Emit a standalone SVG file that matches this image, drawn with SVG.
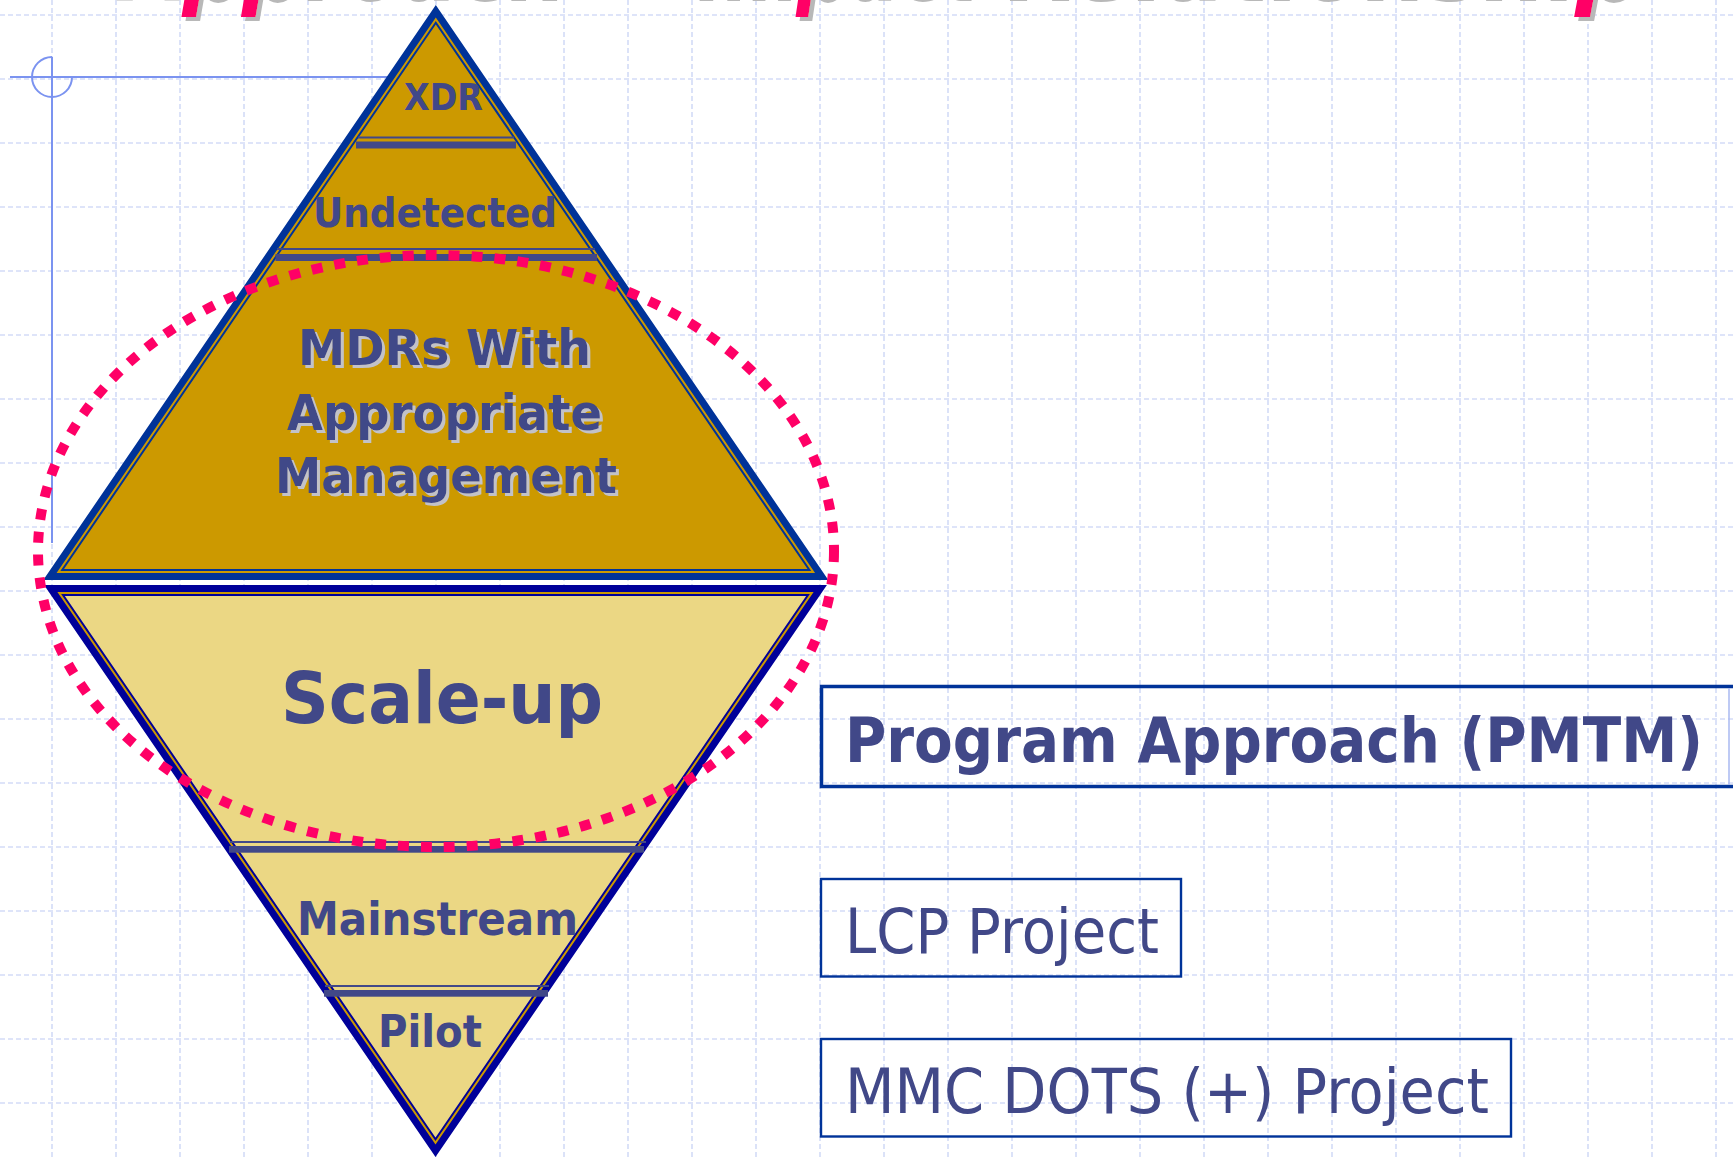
<svg xmlns="http://www.w3.org/2000/svg" width="1733" height="1158" viewBox="0 0 1733 1158">
<defs>
<filter id="shTitle" x="-5%" y="-50%" width="110%" height="200%">
<feOffset in="SourceAlpha" dx="4" dy="4" result="o"/>
<feFlood flood-color="#B8B8B8"/>
<feComposite in2="o" operator="in" result="s"/>
<feMerge><feMergeNode in="s"/><feMergeNode in="SourceGraphic"/></feMerge>
</filter>
<filter id="shLbl" x="-5%" y="-20%" width="110%" height="140%">
<feOffset in="SourceAlpha" dx="2.5" dy="2.5" result="o"/>
<feFlood flood-color="#C2C2C8"/>
<feComposite in2="o" operator="in" result="s"/>
<feMerge><feMergeNode in="s"/><feMergeNode in="SourceGraphic"/></feMerge>
</filter>
</defs>
<style>
.grid{fill:none;stroke:#D3DBF7;stroke-width:1.6;stroke-dasharray:5 3}
.cross{fill:none;stroke:#7B93F0;stroke-width:2}
.lbl{font-family:"DejaVu Sans","Liberation Sans",sans-serif;font-weight:bold;fill:#414888}
.box{font-family:"DejaVu Sans","Liberation Sans",sans-serif;fill:#414888;font-size:62px}
.title{font-family:"DejaVu Sans","Liberation Sans",sans-serif;font-weight:bold;font-style:italic;font-size:94px;fill:#FF0066}
.bar{fill:#414888}
.thin{stroke:#414888;stroke-width:2}
</style>
<rect width="1733" height="1158" fill="#FFFFFF"/>
<g id="grid">
<path class="grid" d="M52 0V1158M116 0V1158M180 0V1158M244 0V1158M308 0V1158M372 0V1158M436 0V1158M500 0V1158M564 0V1158M628 0V1158M692 0V1158M756 0V1158M820 0V1158M884 0V1158M948 0V1158M1012 0V1158M1076 0V1158M1140 0V1158M1204 0V1158M1268 0V1158M1332 0V1158M1396 0V1158M1460 0V1158M1524 0V1158M1588 0V1158M1652 0V1158M1716 0V1158"/>
<path class="grid" d="M0 15H1733M0 79H1733M0 143H1733M0 207H1733M0 271H1733M0 335H1733M0 399H1733M0 463H1733M0 527H1733M0 591H1733M0 655H1733M0 719H1733M0 783H1733M0 847H1733M0 911H1733M0 975H1733M0 1039H1733M0 1103H1733"/>
</g>
<g id="title" class="title" filter="url(#shTitle)">
<text x="118" y="-3" textLength="446" lengthAdjust="spacingAndGlyphs">Approach</text>
<text x="614" y="-3" textLength="42" lengthAdjust="spacingAndGlyphs">–</text>
<text x="694" y="-3" textLength="280" lengthAdjust="spacingAndGlyphs">Impact</text>
<text x="1004" y="-3" textLength="636" lengthAdjust="spacingAndGlyphs">Relationship</text>
</g>
<g id="crosshair">
<path class="cross" d="M10 77H400"/>
<path class="cross" stroke-width="1.6" d="M52 57V543"/>
<path class="cross" stroke-width="1.6" d="M52 57A20 20 0 1 0 72 77"/>
</g>
<g id="upper-triangle">
<polygon points="435.8,11.2 49.9,576.5 821.7,576.5" fill="#CC9900" stroke="#003399" stroke-width="7"/>
<polygon points="435.8,22.7 62.2,570 809.4,570" fill="none" stroke="#003399" stroke-width="2"/>
</g>
<g id="lower-triangle">
<polygon points="50.7,588.5 820.3,588.5 435.5,1150.8" fill="#CC9900" stroke="#000099" stroke-width="7"/>
<polygon points="63,595 808,595 435.5,1139.3" fill="#EBD784" stroke="#000099" stroke-width="2"/>
</g>
<g id="dividers">
<line class="thin" x1="358" y1="137.5" x2="514" y2="137.5"/>
<rect class="bar" x="356" y="141.5" width="160" height="7"/>
<line class="thin" x1="277" y1="249" x2="595" y2="249"/>
<rect class="bar" x="275.5" y="254" width="321.5" height="7"/>
<line class="thin" x1="230" y1="842" x2="646" y2="842"/>
<rect class="bar" x="229" y="846" width="415" height="6.7"/>
<line class="thin" x1="325" y1="986" x2="549" y2="986"/>
<rect class="bar" x="324" y="990" width="224" height="6.7"/>
</g>
<g id="node-xdr"><text class="lbl" x="404" y="110" font-size="37" textLength="79" lengthAdjust="spacingAndGlyphs">XDR</text></g>
<g id="node-undetected"><text class="lbl" x="313" y="226.7" font-size="41" textLength="244" lengthAdjust="spacingAndGlyphs">Undetected</text></g>
<g id="node-mdrs" class="lbl" font-size="50" filter="url(#shLbl)">
<text x="298" y="365" textLength="293" lengthAdjust="spacingAndGlyphs">MDRs With</text>
<text x="287" y="430" textLength="315" lengthAdjust="spacingAndGlyphs">Appropriate</text>
<text x="275" y="493.3" textLength="342" lengthAdjust="spacingAndGlyphs">Management</text>
</g>
<g id="node-scaleup">
<text class="lbl" x="281" y="722.7" font-size="72" textLength="322" lengthAdjust="spacingAndGlyphs">Scale-up</text>
</g>
<g id="node-mainstream"><text class="lbl" x="297" y="935" font-size="46" textLength="281" lengthAdjust="spacingAndGlyphs">Mainstream</text></g>
<g id="node-pilot"><text class="lbl" x="378" y="1047" font-size="44" textLength="104" lengthAdjust="spacingAndGlyphs">Pilot</text></g>
<g id="highlight">
<ellipse cx="436" cy="551" rx="398" ry="296" fill="none" stroke="#FF0066" stroke-width="10" stroke-dasharray="11 12"/>
</g>
<g id="node-program">
<rect x="821.5" y="686.5" width="1000" height="100" fill="none" stroke="#003399" stroke-width="3.5"/>
<line x1="1729" y1="688" x2="1729" y2="785" stroke="#A8B8F0" stroke-width="1.5"/>
<text class="box" x="845" y="762" font-weight="bold" textLength="858" lengthAdjust="spacingAndGlyphs">Program Approach (PMTM)</text>
</g>
<g id="node-lcp">
<rect x="821" y="879" width="360" height="97.5" fill="none" stroke="#003399" stroke-width="2.4"/>
<text class="box" x="845" y="953" textLength="314" lengthAdjust="spacingAndGlyphs">LCP Project</text>
</g>
<g id="node-mmc">
<rect x="821" y="1039" width="690" height="97.5" fill="none" stroke="#003399" stroke-width="2.4"/>
<text class="box" x="845" y="1112.7" textLength="644" lengthAdjust="spacingAndGlyphs">MMC DOTS (+) Project</text>
</g>
</svg>
